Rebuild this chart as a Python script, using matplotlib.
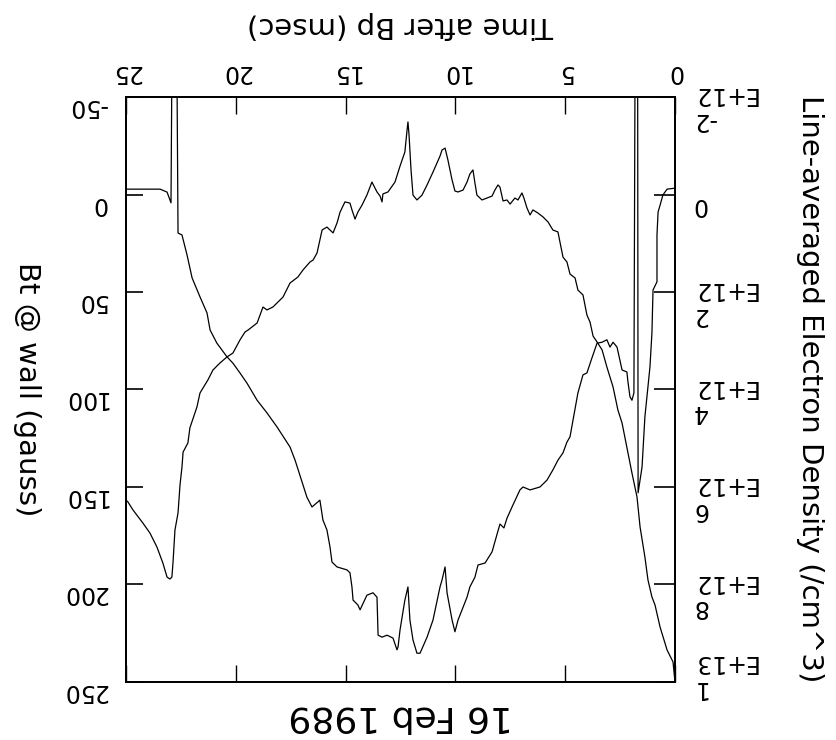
"""Bt at the wall and line-averaged density vs time, drawn upside down as in the scan."""
import matplotlib
matplotlib.use("Agg")  # headless
import matplotlib.pyplot as plt
from matplotlib.transforms import blended_transform_factory, offset_copy

# Bt @ wall (gauss) vs time after Bp (msec)
bt_time = [0.00, 0.09, 0.36, 0.68, 0.91, 1.05, 1.23, 1.37, 1.59, 1.73, 1.96, 2.14,
           2.41, 2.60, 2.82, 2.96, 3.10, 3.32, 3.55, 3.73, 3.87, 4.01, 4.19, 4.42,
           4.55, 4.78, 4.92, 5.10, 5.33, 5.56, 5.78, 6.01, 6.24, 6.47, 6.60, 6.74,
           6.88, 6.97, 7.15, 7.29, 7.51, 7.65, 7.83, 7.97, 8.06, 8.20, 8.33, 8.56,
           8.79, 9.02, 9.11, 9.20, 9.34, 9.47, 9.65, 9.88, 10.02, 10.15, 10.34, 10.47,
           10.61, 10.70, 10.88, 11.02, 11.29, 11.52, 11.75, 11.93, 12.02, 12.11, 12.16,
           12.20, 12.30, 12.52, 12.75, 13.07, 13.30, 13.34, 13.43, 13.57, 13.80, 14.03,
           14.25, 14.44, 14.57, 14.71, 14.80, 15.03, 15.25, 15.39, 15.57, 15.85, 16.07,
           16.30, 16.48, 16.62, 16.94, 17.17, 17.53, 17.85, 18.31, 18.58, 18.76, 19.03,
           19.44, 19.58, 19.81, 20.13, 20.40, 20.72, 21.04, 21.27, 21.63, 21.77, 22.09,
           22.18, 22.40, 22.45, 22.54, 22.63, 22.77, 22.86, 22.91, 23.00, 23.13, 23.32,
           23.59, 23.91, 24.23, 24.68, 24.91, 25.00]
bt_gauss = [250.0, 239.7, 233.6, 221.8, 210.5, 206.4, 197.7, 185.9, 170.5, 155.1, 142.8, 132.6,
            117.2, 110.5, 98.7, 93.6, 88.5, 79.7, 75.6, 72.6, 65.4, 61.8, 51.5, 49.0,
            42.8, 40.8, 34.6, 32.1, 19.2, 18.2, 14.1, 11.5, 9.5, 7.9, 10.5, 6.9,
            1.8, -0.8, 2.8, 1.8, 4.9, 2.8, 3.3, -3.8, -4.9, -2.3, 0.8, 1.8,
            2.8, 0.3, -5.9, -12.6, -10.5, -6.4, -2.3, -1.3, -1.8, -7.4, -17.7, -23.8,
            -22.8, -19.7, -15.1, -11.5, -4.9, 0.3, 2.8, 0.3, -12.6, -30.5, -37.2,
            -33.1, -21.8, -14.6, -6.4, -1.3, -0.3, 3.8, 0.8, -1.3, -6.4, 0.3,
            5.4, 9.0, 12.6, 7.9, 4.4, 3.8, 9.0, 14.6, 19.7, 16.7, 18.2,
            30.0, 33.6, 34.6, 38.7, 42.3, 45.4, 52.6, 57.7, 59.2, 57.7, 65.9,
            69.5, 70.5, 74.6, 81.3, 83.3, 86.4, 90.0, 95.1, 101.8, 109.0, 119.7,
            127.4, 132.1, 139.7, 149.0, 163.3, 172.1, 189.0, 196.2, 197.2, 196.2, 189.0,
            180.8, 173.6, 168.5, 161.8, 157.7, 156.7]

# line-averaged electron density (1E+12 /cm^3); -2.6 marks the off-scale spikes
ne_time = [0.00, 0.36, 0.55, 0.68, 0.77, 0.82, 0.82, 1.00, 1.05, 1.14, 1.37, 1.50,
           1.68, 1.70, 1.82, 1.87, 1.96, 2.05, 2.14, 2.19, 2.41, 2.64, 2.82, 2.96,
           3.10, 3.32, 3.55, 3.78, 4.01, 4.19, 4.42, 4.78, 4.92, 5.10, 5.33, 5.56,
           5.83, 6.15, 6.60, 6.92, 7.06, 7.38, 7.65, 7.79, 7.97, 8.11, 8.33, 8.65,
           8.97, 9.11, 9.34, 9.47, 9.88, 10.02, 10.15, 10.38, 10.47, 10.61, 10.70, 11.02,
           11.29, 11.61, 11.75, 11.93, 12.07, 12.16, 12.30, 12.52, 12.61, 12.66, 12.84, 13.11,
           13.34, 13.52, 13.57, 13.75, 14.03, 14.34, 14.44, 14.66, 14.71, 14.80, 14.94, 15.39,
           15.62, 15.71, 15.85, 16.03, 16.17, 16.53, 16.76, 17.30, 17.53, 18.12, 18.58, 19.03,
           19.49, 19.81, 20.13, 20.40, 20.86, 21.17, 21.31, 21.63, 21.99, 22.22, 22.45, 22.63,
           22.68, 22.91, 22.95, 23.13, 23.45, 25.00]
ne_1e12 = [-0.13, -0.11, 0.01, 0.22, 0.36, 0.83, 1.79, 1.96, 2.84, 3.54, 4.56, 5.59,
           6.12, -2.6, -2.6, 4.07, 4.22, 4.15, 3.85, 3.64, 3.60, 3.13, 3.03, 3.13,
           2.98, 3.03, 3.05, 3.35, 3.66, 3.70, 4.07, 4.97, 5.08, 5.30, 5.45, 5.65,
           5.86, 6.00, 6.06, 6.00, 6.06, 6.37, 6.64, 6.84, 6.76, 6.98, 7.33, 7.56,
           7.60, 7.85, 8.05, 8.26, 8.73, 8.97, 8.73, 8.17, 7.64, 7.91, 8.05, 8.73,
           9.08, 9.41, 9.41, 9.14, 8.73, 8.05, 8.32, 8.93, 9.28, 9.34, 9.10, 9.04,
           9.08, 9.04, 8.26, 8.17, 8.22, 8.52, 8.42, 8.32, 8.05, 7.76, 7.70, 7.64,
           7.54, 7.23, 6.88, 6.68, 6.27, 6.41, 6.21, 5.45, 5.18, 4.77, 4.48, 4.22,
           3.87, 3.66, 3.46, 3.33, 3.05, 2.78, 2.43, 2.10, 1.71, 1.24, 0.83, 0.79,
           -2.6, -2.6, 0.17, -0.05, -0.11, -0.11]

time_ticks = [0, 5, 10, 15, 20, 25]
bt_ticks = [-50, 0, 50, 100, 150, 200, 250]
ne_ticks = [-2e12, 0, 2e12, 4e12, 6e12, 8e12, 1e13]
ne_tick_labels = ["-2\nE+12", "0", "2\nE+12", "4\nE+12", "6\nE+12", "8\nE+12", "1\nE+13"]

fig = plt.figure(figsize=(8.36, 7.4), dpi=100)
ax = fig.add_axes([0.1507, 0.0784, 0.6567, 0.7905])
ax.plot(bt_time, bt_gauss, color="black", lw=0.9)
ax.set_xlim(25, 0)      # the scan is rotated by 180 degrees
ax.set_ylim(250, -50)

ax2 = ax.twinx()
ax2.plot(ne_time, [v * 1e12 for v in ne_1e12], color="black", lw=0.9)
ax2.set_ylim(1e13, -2e12)

for a in (ax, ax2):
    for s in a.spines.values():
        s.set_linewidth(1.3)

ax.set_xticks(time_ticks)
ax.tick_params(axis="x", top=True, bottom=True, direction="in", length=12,
               width=1, labelbottom=False, labeltop=False)
ax.set_yticks(bt_ticks)
ax.tick_params(axis="y", left=True, right=False, direction="in", length=12.5,
               width=1.2, labelleft=False)
ax2.set_yticks(ne_ticks)
ax2.tick_params(axis="y", left=False, right=True, direction="in", length=15,
                width=1.2, labelright=False)

fs = 17
tx = offset_copy(blended_transform_factory(ax.transData, ax.transAxes),
                 fig=fig, x=0, y=25, units="dots")
for t in time_ticks:
    ax.text(t, 1.0, str(t), transform=tx, rotation=180, ha="center", va="center",
            fontsize=fs)

ty = offset_copy(blended_transform_factory(ax.transAxes, ax.transData),
                 fig=fig, x=-19, y=-9, units="dots")
for v in bt_ticks:
    ax.text(0.0, v, str(v), transform=ty, rotation=180, ha="right", va="center",
            fontsize=fs)

for v, lab in zip(ne_ticks, ne_tick_labels):
    dy = 7 if v == max(ne_ticks) else -10
    tr = offset_copy(blended_transform_factory(ax2.transAxes, ax2.transData),
                     fig=fig, x=17, y=dy, units="dots")
    ax2.text(1.0, v, lab, transform=tr, rotation=180, ha="left", va="center",
             multialignment="right", linespacing=1.1, fontsize=fs)

xc = 0.1507 + 0.6567 / 2
fig.text(xc, 1 - 25 / 740, "Time after Bp (msec)", rotation=180,
         ha="center", va="center", fontsize=21)
fig.text(xc, 1 - 716 / 740, "16 Feb 1989", rotation=180,
         ha="center", va="center", fontsize=26)
fig.text(27 / 836, 1 - 389 / 740, "Bt @ wall (gauss)", rotation=270,
         ha="center", va="center", fontsize=21)
fig.text(810 / 836, 1 - 389 / 740, "Line-averaged Electron Density (/cm^3)",
         rotation=270, ha="center", va="center", fontsize=21)

fig.savefig("out.png", dpi=100)
plt.close(fig)
